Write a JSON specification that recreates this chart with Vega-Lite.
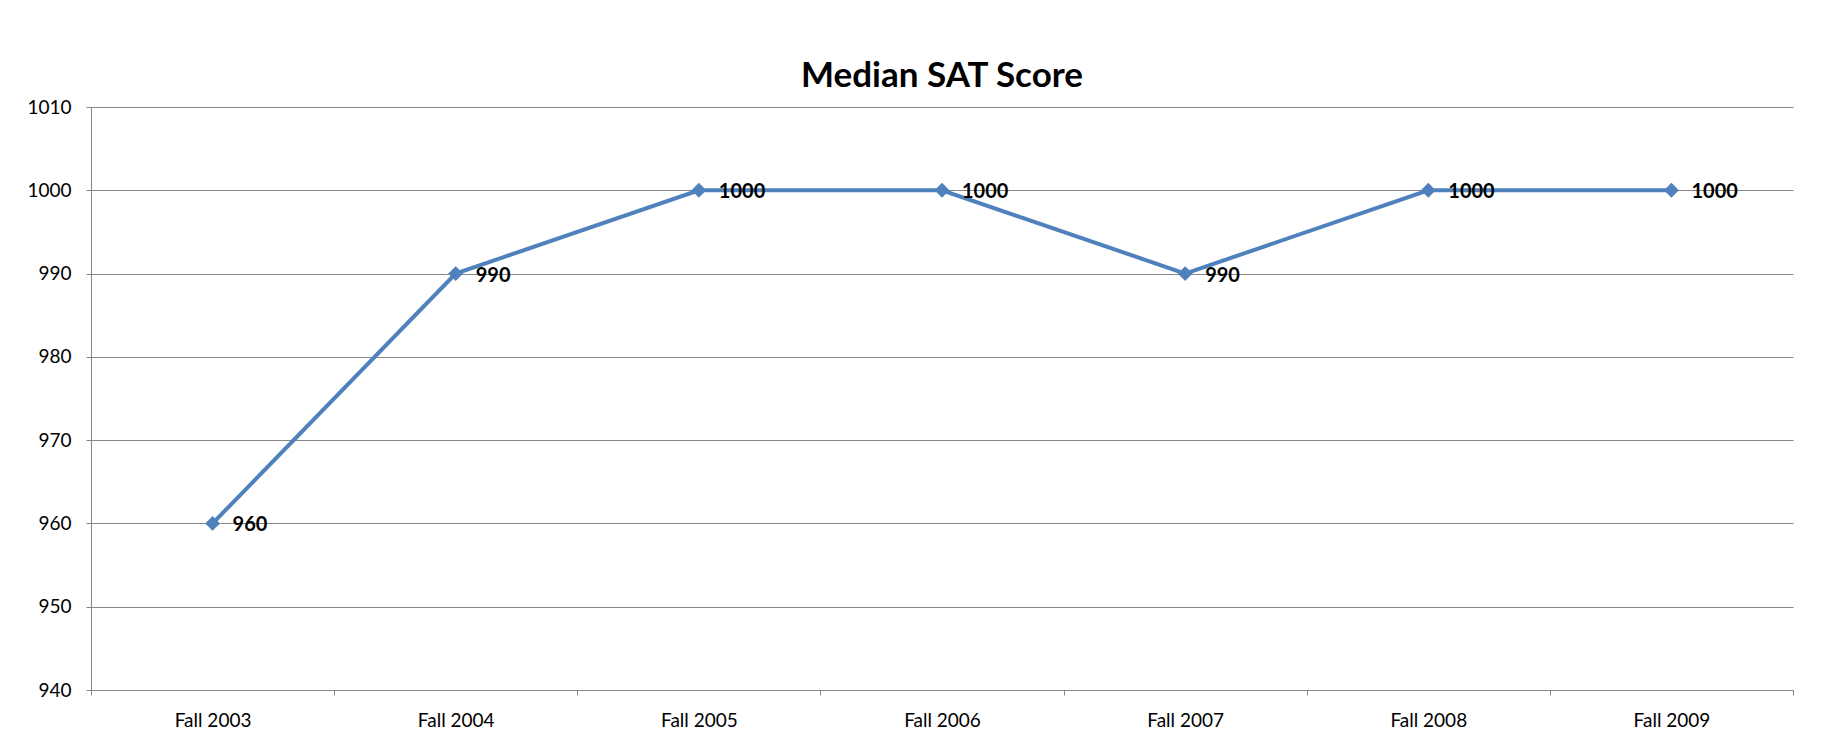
{
  "$schema": "https://vega.github.io/schema/vega-lite/v6.json",
  "autosize": {"type": "none"},
  "padding": {"left": 91, "top": 107, "right": 35, "bottom": 61},
  "width": 1702,
  "height": 583,
  "background": "white",
  "config": {
    "font": "Lato",
    "view": {"stroke": null},
    "axis": {
      "labelFont": "Lato",
      "labelFontSize": 19,
      "labelColor": "#000000",
      "domainColor": "#868686",
      "tickColor": "#868686",
      "gridColor": "#868686",
      "tickSize": 5,
      "title": null
    }
  },
  "title": {
    "text": "Median SAT Score",
    "font": "Lato",
    "fontSize": 35,
    "fontWeight": "bold",
    "color": "#000000",
    "anchor": "middle",
    "offset": 4
  },
  "data": {
    "values": [
      {"term": "Fall 2003", "score": 960},
      {"term": "Fall 2004", "score": 990},
      {"term": "Fall 2005", "score": 1000},
      {"term": "Fall 2006", "score": 1000},
      {"term": "Fall 2007", "score": 990},
      {"term": "Fall 2008", "score": 1000},
      {"term": "Fall 2009", "score": 1000}
    ]
  },
  "encoding": {
    "x": {
      "field": "term",
      "type": "nominal",
      "sort": null,
      "scale": {"type": "band", "paddingInner": 0, "paddingOuter": 0},
      "axis": {"labelAngle": 0, "tickBand": "extent", "grid": false, "labelPadding": 16}
    },
    "y": {
      "field": "score",
      "type": "quantitative",
      "scale": {"domain": [940, 1010], "nice": false, "zero": false},
      "axis": {"values": [940, 950, 960, 970, 980, 990, 1000, 1010], "format": "d", "grid": true, "labelPadding": 15}
    }
  },
  "layer": [
    {
      "mark": {"type": "line", "color": "#4F81BD", "strokeWidth": 4, "point": {"shape": "diamond", "size": 220, "filled": true, "color": "#4F81BD", "opacity": 1}}
    },
    {
      "mark": {"type": "text", "align": "left", "baseline": "middle", "dx": 20, "dy": 2, "fontSize": 20, "fontWeight": "bold", "color": "#000000", "font": "Lato"},
      "encoding": {"text": {"field": "score", "type": "quantitative", "format": "d"}}
    }
  ]
}
